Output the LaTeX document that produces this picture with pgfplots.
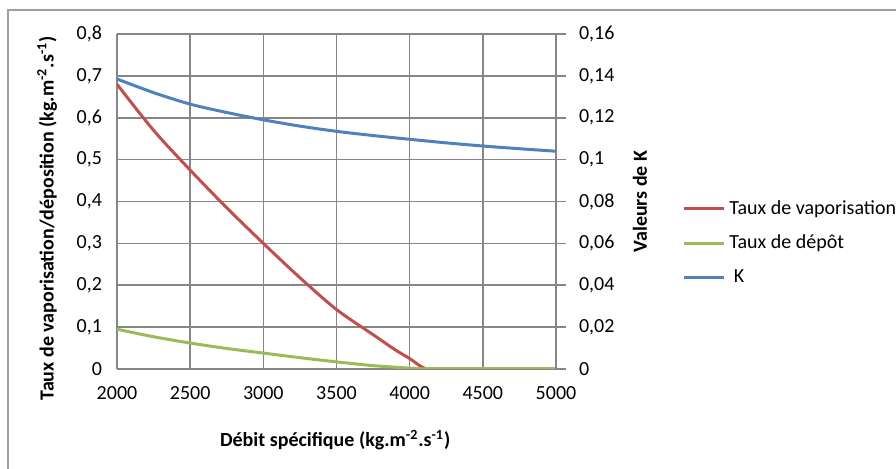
\documentclass[border=0pt]{standalone}
\usepackage{pgfplots}
\pgfplotsset{compat=1.18}
\usepackage{fontspec}
\setmainfont{Carlito}
\definecolor{cred}{HTML}{C0504D}
\definecolor{cgreen}{HTML}{9BBB59}
\definecolor{cblue}{HTML}{4F81BD}
\definecolor{cgrid}{HTML}{868686}
\begin{document}
\begin{tikzpicture}
\useasboundingbox (0,0) rectangle (448pt,234.5pt);
\draw[cgrid!80, line width=1pt] (4pt,-10pt) -- (4pt,229.5pt) -- (460pt,229.5pt);
\pgfplotsset{
  every axis/.append style={
    scale only axis, width=219.5pt, height=167.5pt,
    at={(58.5pt,50pt)}, anchor=south west,
    xmin=2000, xmax=5000,
    font=\fontsize{10}{12}\selectfont,
    /pgf/number format/assume math mode=true,
    /pgf/number format/use comma,
    /pgf/number format/1000 sep={},
    axis line style={cgrid, line width=0.8pt},
    tick style={cgrid, line width=0.8pt},
  },
}
\begin{axis}[
  ymin=0, ymax=0.8, ytick={0,0.1,...,0.8},
  yticklabel style={/pgf/number format/fixed, /pgf/number format/precision=1},
  xtick={2000,2500,...,5000},
  grid=major, major grid style={cgrid, line width=0.8pt},
  major tick length=0pt,
  xticklabel style={yshift=-5pt},
  yticklabel style={xshift=-4pt},
  axis y line*=left, axis x line*=bottom,
  xlabel={\bfseries Débit spécifique (kg.m\textsuperscript{-2}.s\textsuperscript{-1})},
  xlabel style={at={(axis description cs:0.497,-0.212)}, anchor=center},
  ylabel={\bfseries Taux de vaporisation/déposition (kg.m\textsuperscript{-2}.s\textsuperscript{-1})},
  ylabel style={at={(axis description cs:-0.159,0.45)}, anchor=center},
]
\addplot[cred, line width=1.5pt, smooth, tension=0.5] coordinates {
 (2000,0.680) (2250,0.570) (2500,0.475) (2750,0.385) (3000,0.300)
 (3250,0.218) (3500,0.142) (3750,0.082) (3900,0.046) (4000,0.025)
 (4060,0.010) (4100,0.002) (4130,0.000)};
\addplot[cred, line width=1.5pt] coordinates {(4130,0) (5000,0)};
\addplot[cgreen, line width=1.5pt, smooth] coordinates {
 (2000,0.095) (2250,0.077) (2500,0.062) (2750,0.049) (3000,0.038)
 (3250,0.027) (3500,0.017) (3750,0.008) (4000,0.002) (4100,0.000)};
\addplot[cgreen, line width=1.5pt] coordinates {(4100,0) (5000,0)};
\end{axis}
\begin{axis}[
  ymin=0, ymax=0.16, ytick={0,0.02,...,0.16},
  yticklabel style={/pgf/number format/fixed, /pgf/number format/precision=2, xshift=3pt},
  axis y line*=right, axis x line=none,
  y tick style={cgrid}, major tick length=5pt,
  tick align=outside,
  ylabel={\bfseries Valeurs de K},
  ylabel style={at={(axis description cs:1.191,0.5)}, anchor=center, rotate=0},
  legend style={at={(axis description cs:1.287,0.376)}, anchor=west, draw=none, fill=none,
    font=\fontsize{10}{12}\selectfont, row sep=5pt, inner sep=0pt,
    /tikz/every even column/.append style={column sep=0pt}},
  legend cell align=left,
  legend image code/.code={\draw[#1] (0pt,0pt) -- (20pt,0pt);},
]
\addlegendimage{cred, line width=1.5pt}
\addlegendentry{Taux de vaporisation}
\addlegendimage{cgreen, line width=1.5pt}
\addlegendentry{Taux de dépôt}
\addplot[cblue, line width=1.5pt, smooth] coordinates {
 (2000,0.1385) (2250,0.1320) (2500,0.1265) (2750,0.1225) (3000,0.1190)
 (3250,0.1160) (3500,0.1135) (3750,0.1115) (4000,0.1097) (4250,0.1080)
 (4500,0.1065) (4750,0.1052) (5000,0.1040)};
\addlegendentry{\ K}
\end{axis}
\end{tikzpicture}
\end{document}
